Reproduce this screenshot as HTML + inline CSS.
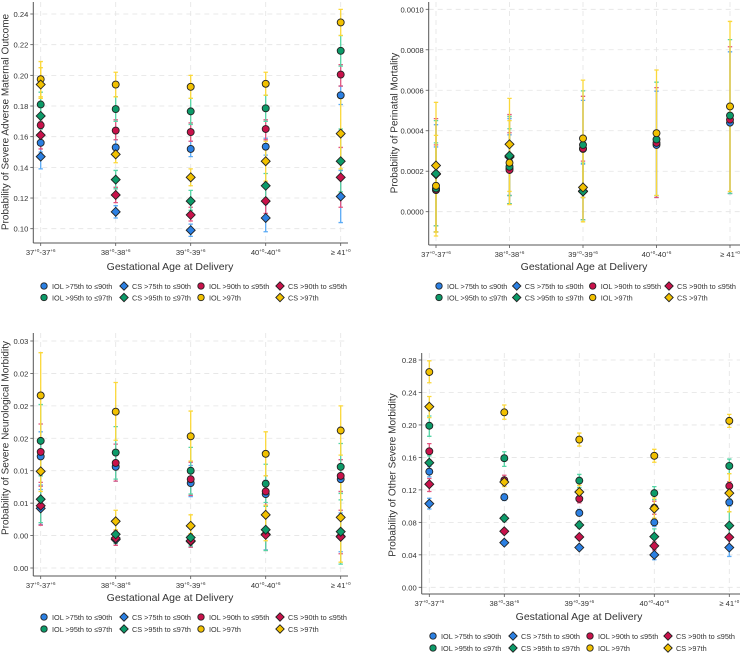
<!DOCTYPE html>
<html><head><meta charset="utf-8"><style>
html,body{margin:0;padding:0;background:#fff;width:740px;height:655px;overflow:hidden}
svg{display:block;font-family:"Liberation Sans",sans-serif}
</style></head><body>
<svg id="chart" width="740" height="655" viewBox="0 0 740 655" xmlns="http://www.w3.org/2000/svg"></svg>
<script>
// ---- shared data ----
const categories = ["37", "38", "39", "40", "41"];
const seriesNames = ["IOL >75th to ≤90th","CS >75th to ≤90th","IOL >90th to ≤95th","CS >90th to ≤95th","IOL >95th to ≤97th","CS >95th to ≤97th","IOL >97th","CS >97th"];
const seriesShapes = ["circle","diamond","circle","diamond","circle","diamond","circle","diamond"];

// ---- panel 1: severe adverse maternal outcome ----
const p1Ticks = [0.10,0.12,0.14,0.16,0.18,0.20,0.22,0.24];
const p1Val = [[0.156,0.153,0.152,0.1535,0.187],[0.147,0.111,0.099,0.107,0.121],[0.1675,0.164,0.163,0.165,0.2005],[0.161,0.122,0.109,0.118,0.1335],[0.181,0.178,0.1765,0.1785,0.216],[0.1735,0.132,0.118,0.128,0.144],[0.1975,0.194,0.1925,0.1945,0.2345],[0.194,0.1485,0.1335,0.144,0.162]];
const p1Lo = [[0.150,0.147,0.147,0.148,0.181],[0.139,0.107,0.095,0.098,0.104],[0.160,0.158,0.157,0.158,0.193],[0.152,0.117,0.105,0.110,0.114],[0.173,0.170,0.168,0.170,0.206],[0.165,0.126,0.112,0.120,0.124],[0.186,0.186,0.185,0.187,0.226],[0.185,0.143,0.128,0.131,0.139]];
const p1Hi = [[0.165,0.158,0.157,0.159,0.193],[0.155,0.115,0.103,0.116,0.138],[0.175,0.171,0.169,0.171,0.207],[0.170,0.127,0.114,0.127,0.153],[0.189,0.186,0.185,0.187,0.226],[0.182,0.138,0.125,0.136,0.165],[0.209,0.202,0.200,0.202,0.243],[0.205,0.155,0.139,0.157,0.185]];

// ---- panel 2: perinatal mortality ----
const p2Ticks = [0,0.0002,0.0004,0.0006,0.0008,0.0010];
const p2Val = [[0.000107,0.000212,0.00031,0.00033,0.00044],[0.000185,0.00027,0.0001,null,null],[0.000108,0.000206,0.000312,0.00034,0.000455],[0.000187,0.000272,0.000102,null,null],[0.000115,0.000222,0.00033,0.000357,0.000475],[0.000188,0.000277,0.0001,null,null],[0.000128,0.000242,0.000362,0.000388,0.00052],[0.000228,0.000333,0.00012,null,null]];
const p2Lo = [[-0.00007,0.00008,0.00007,0.00007,0.00009],[-0.0001,0.00004,-0.00004,null,null],[-0.00007,0.00008,0.00007,0.00007,0.00009],[-0.0001,0.00004,-0.00004,null,null],[-0.00007,0.00008,0.00007,0.00008,0.00009],[-0.0001,0.00004,-0.00004,null,null],[-0.0001,0.0001,0.00007,0.00008,0.0001],[-0.00012,0.000035,-0.00005,null,null]];
const p2Hi = [[0.00032,0.00038,0.00055,0.000595,0.00079],[0.00043,0.00046,0.000235,null,null],[0.00033,0.00039,0.00057,0.000613,0.000815],[0.00046,0.00048,0.00025,null,null],[0.00034,0.00041,0.000597,0.00064,0.00085],[0.00045,0.00047,0.00024,null,null],[0.000377,0.00045,0.00065,0.0007,0.00094],[0.00054,0.00056,0.00033,null,null]];

// ---- panel 3: severe neurological morbidity ----
const p3Ticks = [0,0.005,0.010,0.015,0.020,0.025,0.030,0.035];
const p3TickLabels = ["0.00","0.00","0.01","0.01","0.02","0.02","0.02","0.03"];
const p3Val = [[0.0172,0.0156,0.0131,0.0114,0.0137],[0.0092,0.0044,0.0041,0.0052,0.0049],[0.0179,0.0162,0.0137,0.0118,0.0142],[0.0096,0.0046,0.0042,0.0051,0.0048],[0.0196,0.0178,0.015,0.013,0.0156],[0.0106,0.0052,0.0047,0.0059,0.0056],[0.0266,0.0241,0.0203,0.0176,0.0212],[0.0149,0.0072,0.0065,0.0082,0.0078]];
const p3Lo = [[0.0128,0.0134,0.0110,0.0097,0.0118],[0.0067,0.0035,0.0032,0.0028,0.0025],[0.0132,0.0134,0.0112,0.0097,0.0118],[0.0066,0.0035,0.0032,0.0027,0.0022],[0.0145,0.0137,0.0114,0.0101,0.0115],[0.0070,0.0038,0.0034,0.0027,0.0006],[0.0200,0.0197,0.0165,0.0142,0.0174],[0.0118,0.0059,0.0053,0.0042,0.0009]];
const p3Hi = [[0.0210,0.0181,0.0158,0.0135,0.0160],[0.0121,0.0055,0.0050,0.0080,0.0085],[0.0222,0.0191,0.0163,0.0142,0.0167],[0.0126,0.0057,0.0052,0.0079,0.0089],[0.0252,0.0218,0.0186,0.0160,0.0192],[0.0142,0.0068,0.0062,0.0095,0.0105],[0.0332,0.0286,0.0242,0.0210,0.0250],[0.0179,0.0089,0.0082,0.0097,0.0145]];

// ---- panel 4: other severe morbidity ----
const p4Ticks = [0,0.04,0.08,0.12,0.16,0.20,0.24,0.28];
const p4Val = [[0.1425,0.111,0.0916,0.080,0.1047],[0.103,0.055,0.049,0.040,0.049],[0.1675,0.132,0.109,0.098,0.1248],[0.127,0.069,0.062,0.051,0.0616],[0.199,0.159,0.1314,0.116,0.1495],[0.1535,0.085,0.0768,0.0624,0.076],[0.2652,0.2155,0.182,0.162,0.205],[0.2225,0.1297,0.1174,0.097,0.116]];
const p4Lo = [[0.136,0.107,0.088,0.075,0.100],[0.0965,0.052,0.046,0.034,0.038],[0.157,0.126,0.104,0.090,0.119],[0.118,0.066,0.059,0.046,0.050],[0.186,0.149,0.123,0.108,0.140],[0.145,0.081,0.073,0.054,0.062],[0.252,0.207,0.174,0.154,0.197],[0.209,0.124,0.110,0.085,0.093]];
const p4Hi = [[0.149,0.115,0.096,0.085,0.109],[0.1096,0.058,0.052,0.046,0.060],[0.177,0.138,0.114,0.106,0.130],[0.134,0.072,0.065,0.056,0.073],[0.211,0.167,0.139,0.124,0.158],[0.162,0.089,0.081,0.072,0.093],[0.279,0.2246,0.190,0.170,0.213],[0.235,0.135,0.1256,0.110,0.140]];

const fillColors = ["#2b80e3","#2b80e3","#c9124b","#c9124b","#0c9b69","#0c9b69","#f2c100","#f2c100"];
const barColors = ["#5aaaf5","#5aaaf5","#e2547f","#e2547f","#55d4a5","#55d4a5","#fbd83a","#fbd83a"];

const NS = "http://www.w3.org/2000/svg";
const svg = document.getElementById("chart");
function mk(tag, attrs, parent) {
  const e = document.createElementNS(NS, tag);
  for (const k in attrs) e.setAttribute(k, attrs[k]);
  (parent || svg).appendChild(e);
  return e;
}

const panels = [
  {id:"maternal", left:33.3, right:348, top:2, axisY:243, v0:0.10, y0:228.7, v1:0.24, y1:14, catX0:40.7, catDX:75,
   ticks:p1Ticks, labels:p1Ticks.map(t=>t.toFixed(2)), val:p1Val, lo:p1Lo, hi:p1Hi,
   title:"Probability of Severe Adverse Maternal Outcome", titleX:6, titleY:122, xTitleX:170, xTitleY:270, legY:[286,297.5], legX:[44,124,201,280]},
  {id:"perinatal", left:428.7, right:740, top:2, axisY:245, v0:0, y0:211.7, v1:0.001, y1:9.3, catX0:436, catDX:73.5,
   ticks:p2Ticks, labels:p2Ticks.map(t=>t.toFixed(4)), val:p2Val, lo:p2Lo, hi:p2Hi,
   title:"Probability of Perinatal Mortality", titleX:395, titleY:123, xTitleX:584, xTitleY:270, legY:[286,297.5], legX:[439,516.7,592.7,669]},
  {id:"neurological", left:33.3, right:348, top:333, axisY:576, v0:0, y0:568, v1:0.035, y1:341, catX0:40.7, catDX:75,
   ticks:p3Ticks, labels:p3TickLabels, val:p3Val, lo:p3Lo, hi:p3Hi,
   title:"Probability of Severe Neurological Morbidity", titleX:6, titleY:438, xTitleX:170, xTitleY:601, legY:[617,629], legX:[44,124,201,280]},
  {id:"other", left:421.7, right:740, top:353, axisY:594, v0:0, y0:587.3, v1:0.28, y1:360, catX0:429.3, catDX:75,
   ticks:p4Ticks, labels:p4Ticks.map(t=>t.toFixed(2)), val:p4Val, lo:p4Lo, hi:p4Hi,
   title:"Probability of Other Severe Morbidity", titleX:393, titleY:475, xTitleX:579, xTitleY:620, legY:[636,648], legX:[433,513,590,668]}
];

const catSup = [["37","+0","-37","+6"],["38","+0","-38","+6"],["39","+0","-39","+6"],["40","+0","-40","+6"],["≥ 41","+0","",""]];

function marker(g, shape, x, y, fill, r) {
  let el;
  if (shape === "circle") el = mk("circle", {cx:x, cy:y, r:r, fill:fill, stroke:"#222", "stroke-width":0.9}, g);
  else { const d = r + 1; el = mk("path", {d:`M${x},${y-d}L${x+d},${y}L${x},${y+d}L${x-d},${y}Z`, fill:fill, stroke:"#222", "stroke-width":0.9}, g); }
  return el;
}

panels.forEach(p => {
  const g = mk("g", {});
  
  
  const yS = v => p.y0 + (v - p.v0) / (p.v1 - p.v0) * (p.y1 - p.y0);
  const xS = i => p.catX0 + i * p.catDX;
  p.ticks.forEach((t,i) => {
    const yy = yS(t);
    const gl = mk("line", {x1:p.left, x2:p.right, y1:yy, y2:yy, stroke:"#e4e4e4", "stroke-width":0.8, "stroke-dasharray":"5,4"}, g);
    
    
    const tk = mk("line", {x1:p.left-3, x2:p.left, y1:yy, y2:yy, stroke:"#555", "stroke-width":0.8}, g);
    
    
    const tl = mk("text", {x:p.left-5, y:yy+3, "text-anchor":"end", "font-size":7.6, fill:"#333"}, g);
    tl.textContent = p.labels[i];
    
    
  });
  categories.forEach((c,i) => {
    const xx = xS(i);
    const gl = mk("line", {x1:xx, x2:xx, y1:p.top, y2:p.axisY, stroke:"#e4e4e4", "stroke-width":0.8, "stroke-dasharray":"5,4"}, g);
    
    
    const tk = mk("line", {x1:xx, x2:xx, y1:p.axisY, y2:p.axisY+3, stroke:"#555", "stroke-width":0.8}, g);
    
    
    const s = catSup[i];
    const tl = mk("text", {x:xx, y:p.axisY+12, "text-anchor":"middle", "font-size":7.6, fill:"#333"}, g);
    
    
    let t1 = mk("tspan", {}, tl); t1.textContent = s[0];
    let t2 = mk("tspan", {"font-size":4.5, dy:-3}, tl); t2.textContent = s[1];
    if (s[2]) {
      let t3 = mk("tspan", {dy:3}, tl); t3.textContent = s[2];
      let t4 = mk("tspan", {"font-size":4.5, dy:-3}, tl); t4.textContent = s[3];
    }
  });
  const ya = mk("line", {x1:p.left, x2:p.left, y1:p.top, y2:p.axisY, stroke:"#555", "stroke-width":1}, g);
  
  
  const xa = mk("line", {x1:p.left, x2:p.right, y1:p.axisY, y2:p.axisY, stroke:"#555", "stroke-width":1}, g);
  
  
  const yt = mk("text", {x:p.titleX, y:p.titleY, transform:`rotate(-90 ${p.titleX} ${p.titleY})`, "text-anchor":"middle", "dominant-baseline":"central", "font-size":10, fill:"#333"}, g);
  yt.textContent = p.title;
  
  
  const xt = mk("text", {x:p.xTitleX, y:p.xTitleY, "text-anchor":"middle", "font-size":10.5, fill:"#333"}, g);
  xt.textContent = "Gestational Age at Delivery";
  
  
  for (let s = 0; s < 8; s++) {
    for (let i = 0; i < categories.length; i++) {
      if (p.val[s][i] === null) continue;
      const xx = xS(i), yl = yS(p.lo[s][i]), yh = yS(p.hi[s][i]);
      const eb = mk("path", {d:`M${xx},${yl}V${yh}M${xx-2.2},${yl}H${xx+2.2}M${xx-2.2},${yh}H${xx+2.2}`, stroke:barColors[s], "stroke-width":1.3, fill:"none"}, g);
      
      
    }
  }
  for (let s = 0; s < 8; s++) {
    for (let i = 0; i < categories.length; i++) {
      if (p.val[s][i] === null) continue;
      const m = marker(g, seriesShapes[s], xS(i), yS(p.val[s][i]), fillColors[s], 3.5);
      
      
    }
  }
  for (let s = 0; s < 8; s++) {
    const col = s % 4, row = s < 4 ? 0 : 1;
    const lg = mk("g", {}, g);
    
    
    const mx = p.legX[col], my = p.legY[row];
    marker(lg, seriesShapes[s], mx, my, fillColors[s], 3.2);
    const lt = mk("text", {x:mx+8, y:my+2.8, "font-size":7.3, fill:"#333"}, lg);
    lt.textContent = seriesNames[s];
  }
});
</script>
</body></html>
